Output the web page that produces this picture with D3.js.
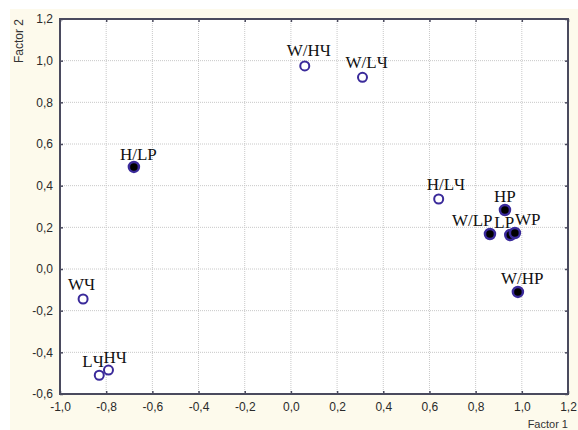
<!DOCTYPE html>
<html>
<head>
<meta charset="utf-8">
<script src="https://cdn.jsdelivr.net/npm/d3@7"></script>
<style>
  body { margin: 0; background: #fff; }
  .tick-label { font-family: Arial, "Liberation Sans", sans-serif; font-size: 12px; fill: #2a2a2a; }
  .pt-label { font-family: "Liberation Serif", "Times New Roman", serif; font-size: 17px; fill: #111; }
</style>
</head>
<body>
<div id="chart"></div>
<script>
// data
var names   = ["W/HЧ", "W/LЧ", "H/LP", "H/LЧ", "HP", "W/LP", "LP", "WP", "W/HP", "WЧ", "LЧ", "HЧ"];
var factor1 = [0.06, 0.31, -0.68, 0.64, 0.927, 0.862, 0.95, 0.97, 0.983, -0.90, -0.83, -0.79];
var factor2 = [0.975, 0.92, 0.49, 0.336, 0.283, 0.168, 0.163, 0.173, -0.11, -0.144, -0.51, -0.485];
var filled  = [false, false, true, false, true, true, true, true, true, false, false, false];
var xTicks  = [-1.0, -0.8, -0.6, -0.4, -0.2, 0.0, 0.2, 0.4, 0.6, 0.8, 1.0, 1.2];
var yTicks  = [-0.6, -0.4, -0.2, 0.0, 0.2, 0.4, 0.6, 0.8, 1.0, 1.2];

// label nudges (px) where labels were moved off the default spot
var labelNudge = {
  "W/HЧ": [-18, -10], "W/LЧ": [-17, -9], "H/LP": [-14, -7], "H/LЧ": [-12, -9],
  "HP": [-11, -8], "W/LP": [-38, -8], "LP": [-16, -7], "WP": [0, -8],
  "W/HP": [-17, -8], "WЧ": [-15, -9], "LЧ": [-17, -8], "HЧ": [-5, -7]
};

var svgWidth = 578, svgHeight = 430;
var margin = { top: 19, right: 10, bottom: 36, left: 60 };
var width = svgWidth - margin.left - margin.right;
var height = svgHeight - margin.top - margin.bottom;

var fmt = function(v) { return d3.format(".1f")(v).replace(".", ",").replace("−", "-"); };

var svg = d3.select("#chart").append("svg")
  .attr("width", svgWidth)
  .attr("height", svgHeight);

// cream panel
svg.append("rect")
  .attr("x", 10).attr("y", 9)
  .attr("width", svgWidth - 10).attr("height", svgHeight - 9)
  .attr("fill", "#fdfaec");

var chartGroup = svg.append("g")
  .attr("transform", `translate(${margin.left}, ${margin.top})`);

var x = d3.scaleLinear().domain([-1.0, 1.2]).range([0, width]);
var y = d3.scaleLinear().domain([-0.6, 1.2]).range([height, 0]);

chartGroup.append("rect")
  .attr("width", width).attr("height", height)
  .attr("fill", "#fff");

// dotted grid
chartGroup.selectAll("line.gx")
  .data(xTicks.slice(1, -1)).enter().append("line")
  .attr("x1", d => x(d)).attr("x2", d => x(d))
  .attr("y1", 0).attr("y2", height)
  .attr("stroke", "#c8c8c8").attr("stroke-width", 1)
  .attr("stroke-dasharray", "1,1");

chartGroup.selectAll("line.gy")
  .data(yTicks.slice(1, -1)).enter().append("line")
  .attr("y1", d => y(d)).attr("y2", d => y(d))
  .attr("x1", 0).attr("x2", width)
  .attr("stroke", "#c8c8c8").attr("stroke-width", 1)
  .attr("stroke-dasharray", "1,1");

// axes with inward ticks on all sides
function styleAxis(g) {
  g.select(".domain").remove();
  g.selectAll(".tick line").attr("stroke", "#4a4a5e").attr("stroke-width", 1.5);
}

chartGroup.append("g")
  .attr("transform", `translate(0, ${height})`)
  .call(d3.axisBottom(x).tickValues(xTicks).tickSize(-3).tickPadding(8).tickFormat(fmt))
  .call(styleAxis)
  .selectAll("text").attr("class", "tick-label");

chartGroup.append("g")
  .call(d3.axisLeft(y).tickValues(yTicks).tickSize(-3).tickPadding(7).tickFormat(fmt))
  .call(styleAxis)
  .selectAll("text").attr("class", "tick-label");

chartGroup.append("g")
  .call(d3.axisTop(x).tickValues(xTicks).tickSize(-3).tickFormat(""))
  .call(styleAxis);

chartGroup.append("g")
  .attr("transform", `translate(${width}, 0)`)
  .call(d3.axisRight(y).tickValues(yTicks).tickSize(-3).tickFormat(""))
  .call(styleAxis);

// frame
chartGroup.append("rect")
  .attr("width", width).attr("height", height)
  .attr("fill", "none")
  .attr("stroke", "#4a4a5e").attr("stroke-width", 2);

// axis titles
svg.append("text")
  .attr("transform", "rotate(-90)")
  .attr("x", -margin.top).attr("y", 23)
  .attr("text-anchor", "end")
  .attr("font-family", "Arial, sans-serif").attr("font-size", 12).attr("fill", "#333")
  .text("Factor 2");

svg.append("text")
  .attr("x", margin.left + width).attr("y", 428)
  .attr("text-anchor", "end")
  .attr("font-family", "Arial, sans-serif").attr("font-size", 11).attr("fill", "#333")
  .text("Factor 1");

var points = names.map((n, i) => ({ name: n, fx: factor1[i], fy: factor2[i], filled: filled[i] }));

chartGroup.selectAll("circle.pt")
  .data(points).enter().append("circle")
  .attr("class", "pt")
  .attr("cx", d => x(d.fx))
  .attr("cy", d => y(d.fy))
  .attr("r", d => d.filled ? 5 : 4.5)
  .attr("fill", d => d.filled ? "#000" : "#fff")
  .attr("stroke", "#3a2a9a")
  .attr("stroke-width", d => d.filled ? 2.5 : 2);

chartGroup.selectAll("text.pt-label")
  .data(points).enter().append("text")
  .attr("class", "pt-label")
  .attr("x", d => x(d.fx) + labelNudge[d.name][0])
  .attr("y", d => y(d.fy) + labelNudge[d.name][1])
  .text(d => d.name);
</script>
</body>
</html>
